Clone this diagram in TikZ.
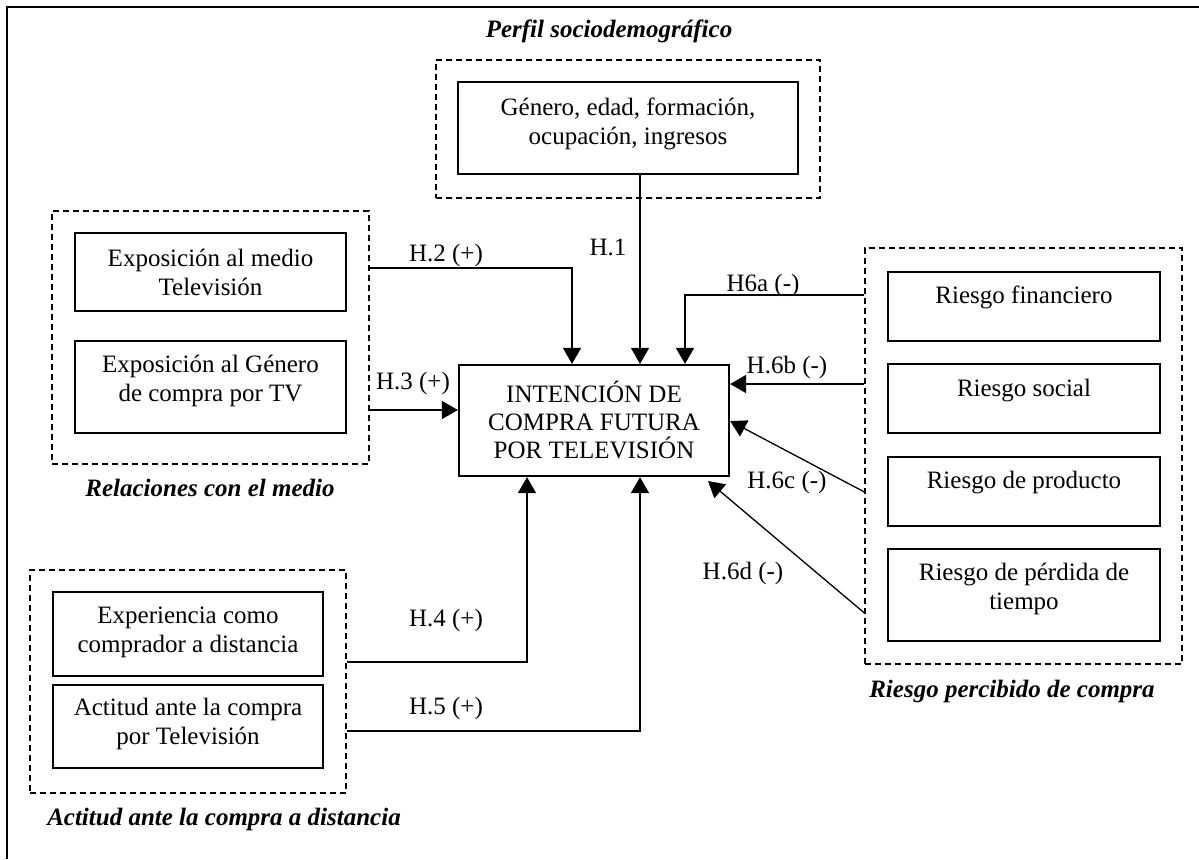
\documentclass[tikz,border=0pt]{standalone}
\usepackage{fontspec}
\setmainfont{Liberation Serif}
\usetikzlibrary{arrows.meta}
\begin{document}
\begin{tikzpicture}[x=0.5pt,y=-0.5pt,
  box/.style={draw,line width=1.1pt,inner sep=0pt},
  grp/.style={draw,line width=0.6pt,dash pattern=on 3pt off 2pt,inner sep=0pt},
  txt/.style={align=center,inner sep=0pt,font=\fontsize{12.5}{14.3}\selectfont},
  lbl/.style={inner sep=0pt,font=\fontsize{12.5}{14.3}\selectfont\bfseries\itshape},
  hyp/.style={inner sep=0pt,font=\fontsize{12.5}{14.3}\selectfont},
  conn/.style={line width=0.65pt,-{Triangle[length=8pt,width=9pt]}}]
\useasboundingbox (0,0) rectangle (1199,859);
% outer frame
\draw[line width=1pt] (7,859) -- (7,7) -- (1199,7);

% groups
\node[grp,minimum width=192pt,minimum height=69pt] (g1) at (628,129) {};
\node[grp,minimum width=158.5pt,minimum height=126.5pt] (g2) at (210.5,337.5) {};
\node[grp,minimum width=158pt,minimum height=111.5pt] (g3) at (188,681.5) {};
\node[grp,minimum width=158.5pt,minimum height=208pt] (g4) at (1023.5,456) {};

% group labels
\node[lbl] (l1) at (609,31) {Perfil sociodemográfico};
\node[lbl] (l2) at (210,488) {Relaciones con el medio};
\node[lbl] (l3) at (224,819) {Actitud ante la compra a distancia};
\node[lbl] (l4) at (1012,691) {Riesgo percibido de compra};

% boxes
\node[box,minimum width=170pt,minimum height=46pt] (genero) at (628,128) {};
\node[txt] (tgenero) at (628,124) {Género, edad, formación,\\ocupación, ingresos};

\node[box,minimum width=135.5pt,minimum height=39pt] (medio) at (210.5,272) {};
\node[txt] (tmedio) at (210.5,272.5) {Exposición al medio\\Televisión};

\node[box,minimum width=135.5pt,minimum height=46pt] (gen) at (210.5,387) {};
\node[txt] (tgen) at (210.5,381) {Exposición al Género\\de compra por TV};

\node[box,minimum width=135pt,minimum height=55.5pt] (central) at (594,420.5) {};
\node[txt,font=\fontsize{12.5}{13.8}\selectfont] (tcentral) at (594,420) {INTENCIÓN DE\\COMPRA FUTURA\\POR TELEVISIÓN};

\node[box,minimum width=135pt,minimum height=42pt] (exp) at (188,634) {};
\node[txt] (texp) at (188,632.5) {Experiencia como\\comprador a distancia};

\node[box,minimum width=135pt,minimum height=41.5pt] (act) at (188,726.5) {};
\node[txt] (tact) at (188,724) {Actitud ante la compra\\por Televisión};

\node[box,minimum width=136pt,minimum height=34.5pt] (fin) at (1024,306.5) {};
\node[txt] (tfin) at (1024,297.5) {Riesgo financiero};

\node[box,minimum width=136pt,minimum height=34.5pt] (soc) at (1024,398.5) {};
\node[txt] (tsoc) at (1024,390.5) {Riesgo social};

\node[box,minimum width=136pt,minimum height=34.5pt] (prod) at (1024,491.5) {};
\node[txt] (tprod) at (1024,482.5) {Riesgo de producto};

\node[box,minimum width=136pt,minimum height=46pt] (tiempo) at (1024,595) {};
\node[txt] (ttiempo) at (1024,589) {Riesgo de pérdida de\\tiempo};

% connectors
\coordinate (h6dtip) at (708,481);
\draw[conn] (genero.south -| 640,0) -- (central.north -| 640,0);
\draw[conn] (g2.east |- 0,268) -| (central.north -| 572,0);
\draw[conn] (g2.east |- 0,410) -- (central.west |- 0,410);
\draw[conn] (g3.east |- 0,662) -| (central.south -| 527,0);
\draw[conn] (g3.east |- 0,731) -| (central.south -| 640,0);
\draw[conn] (g4.west |- 0,295) -| (central.north -| 685,0);
\draw[conn] (g4.west |- 0,384) -- (central.east |- 0,384);
\draw[conn] (g4.west |- 0,492) -- (central.east |- 0,421);
\draw[conn] (g4.west |- 0,613) -- (h6dtip);

% hypothesis labels
\node[hyp] (h1) at (608,247) {H.1};
\node[hyp] (h2) at (446,255) {H.2 (+)};
\node[hyp] (h3) at (413,383) {H.3 (+)};
\node[hyp] (h4) at (446,620) {H.4 (+)};
\node[hyp] (h5) at (446,708) {H.5 (+)};
\node[hyp] (h6a) at (763,285) {H6a (-)};
\node[hyp] (h6b) at (787,367) {H.6b (-)};
\node[hyp] (h6c) at (787,482) {H.6c (-)};
\node[hyp] (h6d) at (743,573) {H.6d (-)};
\end{tikzpicture}
\end{document}
